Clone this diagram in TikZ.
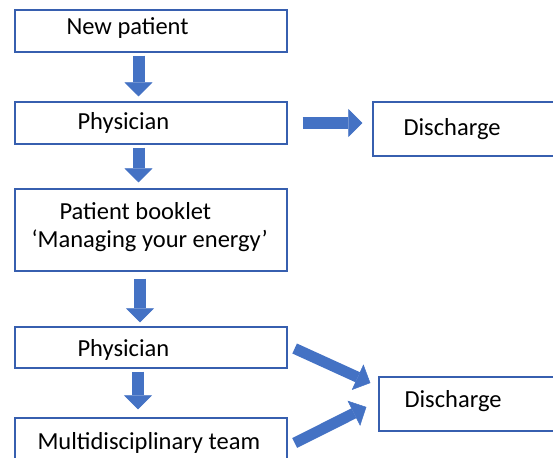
\documentclass[tikz,border=0pt]{standalone}
\usepackage{fontspec}
\setmainfont{Carlito}
\usetikzlibrary{arrows.meta}
\usetikzlibrary{positioning}
\definecolor{boxblue}{RGB}{55,95,175}
\definecolor{arrowblue}{RGB}{68,114,196}

\begin{document}
\begin{tikzpicture}[
            x=1pt, y=-1pt,
            every node/.style={font=\fontsize{24.5}{28}\selectfont},
            box/.style={draw=boxblue, line width=1.3pt, minimum width=272pt, minimum height=42pt, inner sep=0pt},
            sidebox/.style={box, minimum width=200pt, minimum height=54pt},
            txt/.style={inner sep=0pt, align=left},
            blockarrow/.style={draw=arrowblue, line width=12pt, -{Triangle[width=28pt,length=14pt,line width=0.5pt]}}
            ]
            \useasboundingbox (0,0) rectangle (553,457);
            % left column
            \node[box] (np) at (151,31) {};
            \node[box] (ph1) at (151,123) {};
            \node[box, minimum height=82pt] (pb) at (151,230) {};
            \node[box, minimum height=41pt] (ph2) at (151,347.5) {};
            \node[box, minimum height=54pt] (mdt) at (151,445) {};
            % right column
            \node[sidebox] (dis1) at (473,129) {};
            \node[sidebox] (dis2) at (479,404) {};
            % texts
            \node[txt, right=52pt of np.west, yshift=3pt] (nptext) {New patient};
            \node[txt, right=63pt of ph1.west] (ph1text) {Physician};
            \node[txt, right=17pt of pb.west, yshift=3pt] (pbtext) {\hspace*{28pt}Patient booklet\\‘Managing your energy’};
            \node[txt, right=63pt of ph2.west, yshift=-2pt] (ph2text) {Physician};
            \node[txt, right=23pt of mdt.west, yshift=2pt] (mdttext) {Multidisciplinary team};
            \node[txt, right=31pt of dis1.west] (dis1text) {Discharge};
            \node[txt, right=26pt of dis2.west, yshift=3pt] (dis2text) {Discharge};
            % arrows
            \draw[blockarrow, shorten <=3pt, shorten >=5pt] ([xshift=-12.5pt]np.south) -- ([xshift=-12.5pt]ph1.north);
            \draw[blockarrow, shorten <=3pt, shorten >=6pt] ([xshift=-12.5pt]ph1.south) -- ([xshift=-12.5pt]pb.north);
            \draw[blockarrow, shorten <=7pt, shorten >=4pt] ([xshift=-11pt]pb.south) -- ([xshift=-11pt]ph2.north);
            \draw[blockarrow, shorten <=3pt, shorten >=8pt] ([xshift=-13pt]ph2.south) -- ([xshift=-13pt]mdt.north);
            \draw[blockarrow, shorten <=15pt, shorten >=10pt] (ph1.east) -- (ph1.east -| dis1.west);
            \draw[blockarrow, line width=11pt] ([xshift=7pt,yshift=-1pt]ph2.east) -- ([xshift=-8pt,yshift=21pt]dis2.west);
            \draw[blockarrow, line width=11pt] ([xshift=7pt,yshift=2pt]mdt.east) -- ([xshift=-12pt,yshift=-3pt]dis2.west);
        \end{tikzpicture}
\end{document}
